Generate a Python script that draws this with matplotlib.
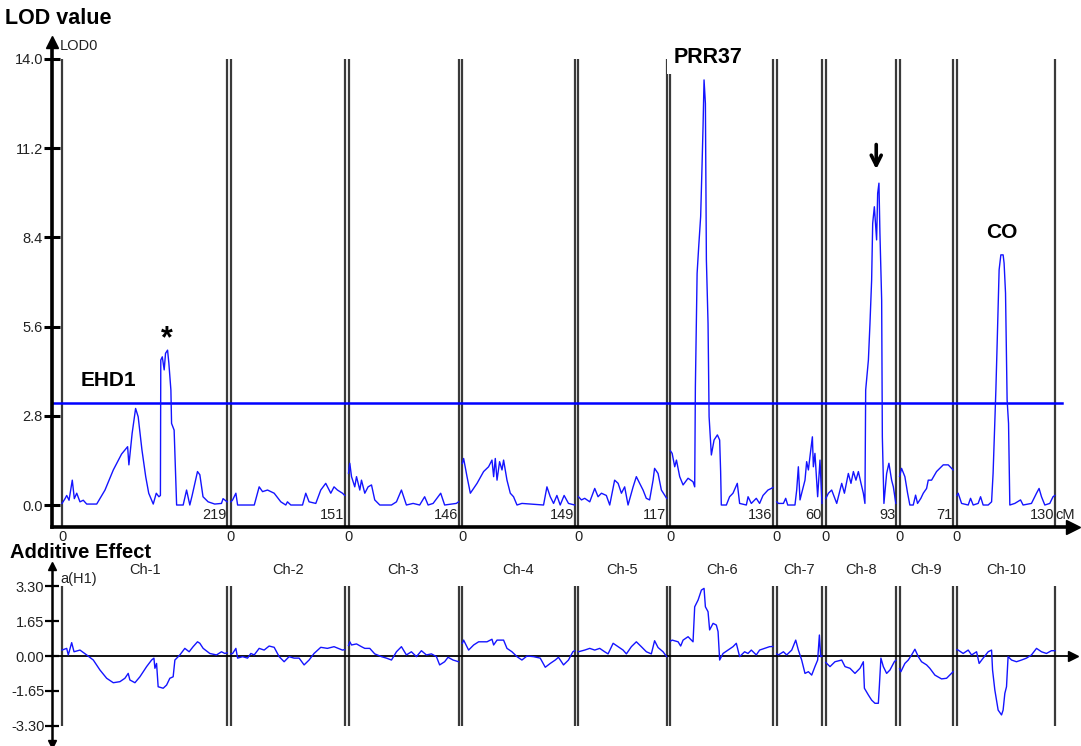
import numpy as np
import matplotlib
matplotlib.use('Agg')
import matplotlib.pyplot as plt

plt.rcParams['font.family'] = ['Liberation Sans', 'DejaVu Sans']

chroms = ['Ch-1', 'Ch-2', 'Ch-3', 'Ch-4', 'Ch-5', 'Ch-6', 'Ch-7', 'Ch-8', 'Ch-9', 'Ch-10']
chrom_len = [219, 151, 146, 149, 117, 136, 60, 93, 71, 130]
gap = 5            # cM between chromosomes on the shared axis
threshold = 3.2    # LOD threshold
lod_ticks = [0.0, 2.8, 5.6, 8.4, 11.2, 14.0]
add_ticks = [3.30, 1.65, 0.00, -1.65, -3.30]

# LOD profiles (position in cM within chromosome, LOD)
lod_cm1 = [0, 4, 6.2, 9.3, 13.6, 16.3, 19.5, 23.8, 28.2, 32.7, 46, 57, 68, 79, 87, 88.7, 93, 97.6, 101, 106,
           111, 115, 121, 125, 128.5, 130.5, 131, 133, 135.5, 137.3, 140, 141.7, 144.4, 145.3, 148.7, 150.6,
           152, 160.7, 165.2, 169.5, 172.6, 179.7, 182.8, 187, 193.8, 202.6, 211.5, 213.6, 219]
lod1 = [0.05, 0.2, 0.3, 0.15, 0.78, 0.2, 0.37, 0.1, 0.15, 0.03, 0.03, 0.47, 1.1, 1.6, 1.83, 1.26, 2.25, 3.03,
        2.77, 1.73, 0.89, 0.37, 0.03, 0.37, 0.26, 0.3, 4.55, 4.65, 4.24, 4.76, 4.86, 4.45, 3.61, 2.56, 2.35,
        0.99, 0.0, 0.0, 0.47, 0.0, 0.3, 1.05, 0.95, 0.26, 0.1, 0.03, 0.05, 0.2, 0.1]
lod_cm2 = [0, 2.3, 6.6, 8.9, 31, 37.5, 42, 48.6, 57.4, 66.2, 72.8, 75, 79.5, 95, 99.3, 103.7, 112.6, 119.2,
           125.8, 132.5, 136.8, 141.3, 148, 151]
lod2 = [0.1, 0.16, 0.37, 0.0, 0.0, 0.57, 0.42, 0.47, 0.37, 0.1, 0.0, 0.1, 0.0, 0.0, 0.37, 0.1, 0.05, 0.47,
        0.68, 0.37, 0.57, 0.47, 0.37, 0.3]
lod_cm3 = [0, 1.7, 4, 8.3, 10.6, 15, 17.2, 21.6, 26, 30.5, 34.8, 41.5, 57, 63.6, 70.2, 76.8, 85.7, 94.4, 101,
           105.6, 112.2, 122.3, 127.5, 143, 146]
lod3 = [1.0, 1.31, 0.89, 0.57, 0.89, 0.47, 0.78, 0.37, 0.57, 0.63, 0.16, 0.0, 0.0, 0.1, 0.47, 0.0, 0.05, 0.0,
        0.26, 0.0, 0.05, 0.37, 0.0, 0.05, 0.1]
lod_cm4 = [0, 1.7, 6.2, 10.6, 19.5, 28.2, 34.8, 39.3, 41.5, 43.7, 46, 49.4, 52.6, 54.7, 59.2, 63.6, 67.9,
           72.5, 79, 107.7, 112.2, 116.6, 121, 125.4, 129.8, 135, 140.8, 149]
lod4 = [1.3, 1.46, 0.89, 0.37, 0.68, 1.05, 1.2, 1.41, 0.89, 1.46, 0.78, 1.36, 1.1, 1.41, 0.78, 0.37, 0.26,
        0.0, 0.05, 0.0, 0.57, 0.26, 0.05, 0.3, 0.0, 0.3, 0.05, 0.0]
lod_cm5 = [0, 4, 8.3, 15, 21.6, 26, 30.5, 37, 41.5, 48, 52.6, 57, 61.3, 65.8, 72.5, 76.8, 81.2, 85.7, 90,
           94.4, 99, 101, 105.6, 110, 117]
lod5 = [0.26, 0.16, 0.21, 0.1, 0.52, 0.26, 0.37, 0.3, 0.0, 0.78, 0.68, 0.37, 0.57, 0.0, 0.57, 0.89, 0.68,
        0.47, 0.21, 0.16, 0.78, 1.15, 0.99, 0.47, 0.21]
lod_cm6 = [0, 2.3, 5.7, 8, 12.3, 16.8, 23.4, 30, 32.2, 33.1, 35.4, 37.5, 40.1, 42, 43.3, 44.6, 46.4, 47.7,
           49.9, 51.3, 54.3, 57.9, 62.3, 65.3, 66.6, 67.5, 74.2, 78.5, 83, 88.7, 91.8, 100.7, 103, 107.3,
           113.9, 118.3, 122.8, 129.4, 133.8, 136]
lod6 = [1.7, 1.62, 1.2, 1.41, 0.89, 0.63, 0.84, 0.73, 0.57, 3.71, 7.27, 8.1, 9.05, 10.7, 11.9, 13.34, 12.6,
        7.7, 5.7, 2.77, 1.57, 2.04, 2.2, 2.04, 1.05, 0.0, 0.0, 0.26, 0.37, 0.68, 0.05, 0.0, 0.26, 0.05,
        0.21, 0.05, 0.3, 0.47, 0.52, 0.55]
lod_cm7 = [0, 2.3, 8.9, 11.9, 14.6, 24.2, 26.5, 28.7, 30.9, 33.1, 37.5, 39.7, 42, 44.1, 47.3, 48.6, 50.7,
           54.3, 57.4, 60]
lod7 = [0.1, 0.05, 0.05, 0.21, 0.0, 0.0, 0.47, 1.2, 0.16, 0.37, 0.78, 1.36, 1.1, 1.52, 2.14, 1.2, 1.62,
        0.26, 1.41, 0.05]
lod_cm8 = [0, 3.6, 7.9, 14.6, 21.2, 24.8, 30, 33.5, 36.7, 40.1, 43.3, 46.8, 49.9, 52, 53, 56.6, 58.7, 60.9,
           62.3, 64.5, 67.5, 68.9, 70.6, 71.9, 74.2, 75.1, 77.2, 80.8, 83.8, 87.4, 89.7, 93]
lod8 = [0.2, 0.37, 0.47, 0.05, 0.68, 0.37, 0.99, 0.68, 1.05, 0.78, 1.05, 0.68, 0.37, 0.05, 3.61, 4.55, 5.7,
        7.06, 8.84, 9.36, 8.32, 9.78, 10.1, 8.53, 6.43, 2.14, 0.05, 0.99, 1.31, 0.78, 0.57, 0.05]
lod_cm9 = [0, 2.6, 7, 10.6, 13.6, 18.1, 21.2, 23.8, 28.2, 31.4, 35.8, 38, 42.4, 49, 57.9, 64.5, 71]
lod9 = [0.9, 1.15, 0.89, 0.37, 0.0, 0.0, 0.31, 0.05, 0.21, 0.37, 0.52, 0.78, 0.78, 1.05, 1.26, 1.26, 1.1]
lod_cm10 = [0, 1.7, 6.2, 15, 18.1, 21.6, 28.2, 31.4, 34.8, 41.5, 46, 48, 50.3, 51.7, 53.4, 56, 58.3, 61.3,
            62.6, 64.5, 66.6, 68.5, 70.2, 76.8, 84.4, 87.8, 98.9, 105.6, 109, 112.2, 116.6, 123.2, 127.5, 130]
lod10 = [0.3, 0.37, 0.05, 0.0, 0.21, 0.0, 0.05, 0.26, 0.0, 0.0, 0.1, 0.99, 2.61, 3.61, 5.07, 7.38, 7.85,
         7.85, 7.59, 6.65, 3.3, 2.56, 0.0, 0.05, 0.16, 0.0, 0.05, 0.37, 0.52, 0.26, 0.0, 0.05, 0.26, 0.3]

# additive effect a(H1)
add_cm1 = [0, 6.2, 8.3, 12.8, 15.9, 23.8, 32.7, 41.5, 50.3, 59.2, 68, 76.8, 83.4, 87.8, 90, 96.7, 103.3,
           112.2, 118.8, 121.9, 123.2, 125.4, 127.5, 134.2, 138.7, 143, 147.4, 149.7, 156.3, 162.9, 168.6,
           173.9, 179.7, 182.8, 187.2, 196, 204.9, 211.5, 215.9, 219]
add1 = [0.28, 0.36, 0.05, 0.63, 0.2, 0.28, 0.05, -0.19, -0.66, -1.05, -1.26, -1.21, -1.05, -0.82, -1.13,
        -1.26, -0.98, -0.5, -0.19, -0.1, -0.58, -0.35, -1.45, -1.52, -1.37, -1.05, -0.98, -0.19, 0.05, 0.36,
        0.2, 0.44, 0.67, 0.6, 0.36, 0.12, 0.05, 0.2, 0.12, 0.15]
add_cm2 = [0, 2.3, 6.6, 8.9, 15.5, 22.1, 26.5, 30.9, 37.5, 44.1, 50.7, 57.4, 64, 70.6, 77.2, 83.8, 90.5,
           97.1, 103.7, 110.3, 119.2, 128, 136.8, 147.9, 151]
add2 = [0.1, 0.12, 0.36, -0.1, -0.03, -0.1, 0.12, 0.05, 0.36, 0.28, 0.47, 0.41, -0.03, -0.27, -0.03, -0.1,
        -0.1, -0.42, -0.19, 0.12, 0.41, 0.36, 0.44, 0.28, 0.3]
add_cm3 = [0, 1.7, 4, 10.6, 17.2, 21.6, 28.2, 34.8, 43.7, 50.3, 57, 63.6, 70.2, 76.8, 83.4, 90.1, 96.7,
           103.3, 110, 116.6, 120.9, 127.5, 132, 138.7, 146]
add3 = [0.5, 0.67, 0.52, 0.57, 0.44, 0.36, 0.36, 0.1, -0.03, -0.1, -0.19, 0.2, 0.44, 0.05, 0.2, -0.03, 0.25,
        0.05, 0.1, -0.03, -0.42, -0.27, -0.06, -0.19, -0.27]
add_cm4 = [0, 1.7, 8.3, 15, 21.6, 32.7, 39.3, 41.5, 46, 54.7, 59.2, 65.8, 72.5, 79, 85.7, 94.4, 103.3, 110,
           116.6, 123.2, 127.5, 134.2, 140.8, 146.6, 149]
add4 = [0.6, 0.75, 0.28, 0.52, 0.67, 0.67, 0.79, 0.52, 0.75, 0.75, 0.36, 0.2, -0.03, -0.19, 0.0, -0.03,
        -0.1, -0.53, -0.35, -0.19, -0.06, -0.42, -0.19, 0.2, 0.25]
add_cm5 = [0, 8.3, 15, 21.6, 28.2, 34.8, 39.3, 46, 52.6, 59.2, 63.6, 70.2, 76.8, 83.4, 90.1, 96.7, 101,
           105.6, 112.2, 117]
add5 = [0.2, 0.28, 0.36, 0.28, 0.36, 0.2, 0.1, 0.6, 0.44, 0.28, 0.1, 0.44, 0.67, 0.44, 0.2, 0.1, 0.72, 0.4,
        0.2, -0.03]
add_cm6 = [0, 2.3, 10.2, 13.6, 16.8, 23.4, 30, 32.2, 36.7, 41.1, 44.6, 46.4, 49.9, 52, 56.6, 60.9, 63.2,
           65.3, 69.8, 76.4, 83, 87.4, 91.8, 98.4, 102.9, 107.3, 113.9, 118.3, 124.9, 131.5, 136]
add6 = [0.7, 0.75, 0.67, 0.47, 0.75, 0.91, 0.67, 2.32, 2.64, 3.11, 3.19, 2.32, 2.09, 1.23, 1.54, 1.46, 1.15,
        -0.19, 0.12, 0.28, 0.44, 0.6, -0.03, 0.2, 0.12, 0.28, 0.05, 0.28, 0.36, 0.44, 0.45]
add_cm7 = [0, 2.3, 8.9, 13.2, 19.9, 25.2, 28.7, 33.1, 37.5, 42, 46.4, 50.7, 54.3, 56.6, 58.3, 60]
add7 = [0.1, 0.05, 0.2, 0.05, 0.28, 0.75, 0.28, -0.19, -0.82, -0.74, -0.9, -0.5, -0.19, 0.99, -0.03, 0.0]
add_cm8 = [0, 1.3, 5.7, 12.3, 21.2, 25.6, 32.2, 38.8, 45.4, 49.9, 51.3, 56.6, 60.9, 65.3, 69.8, 71.1, 73.2,
           76.4, 80.8, 85.2, 91, 93]
add8 = [-0.3, -0.35, -0.5, -0.27, -0.19, -0.5, -0.58, -0.82, -0.58, -0.27, -1.52, -1.84, -2.08, -2.23, -2.23,
        -1.45, -0.1, -0.5, -0.82, -0.66, -0.27, -0.2]
add_cm9 = [0, 1.7, 7, 11.5, 15.9, 20.3, 24.8, 29.1, 35.8, 40.1, 46.8, 55.6, 62.3, 71]
add9 = [-0.6, -0.74, -0.35, -0.19, 0.05, 0.32, -0.03, -0.27, -0.42, -0.58, -0.9, -1.08, -1.05, -0.74]
add_cm10 = [0, 1.7, 8.3, 15, 19.5, 26.1, 29.5, 34.8, 41.5, 46, 47.3, 50.3, 54.7, 59.2, 61.3, 63.6, 65.8,
            67.9, 72.5, 79, 85.7, 92.3, 98.9, 105.6, 112.2, 118.8, 125.4, 130]
add10 = [0.3, 0.28, 0.12, 0.28, 0.05, 0.2, -0.35, -0.1, 0.2, 0.28, -0.66, -1.6, -2.55, -2.78, -2.55, -1.76,
         -1.45, -0.03, -0.19, -0.27, -0.19, -0.1, 0.05, 0.36, 0.2, 0.12, 0.25, 0.25]

lod_cm = [lod_cm1, lod_cm2, lod_cm3, lod_cm4, lod_cm5, lod_cm6, lod_cm7, lod_cm8, lod_cm9, lod_cm10]
lods = [lod1, lod2, lod3, lod4, lod5, lod6, lod7, lod8, lod9, lod10]
add_cm = [add_cm1, add_cm2, add_cm3, add_cm4, add_cm5, add_cm6, add_cm7, add_cm8, add_cm9, add_cm10]
adds = [add1, add2, add3, add4, add5, add6, add7, add8, add9, add10]

offsets = [sum(chrom_len[:i]) + gap * i for i in range(len(chrom_len))]

BLUE = '#1414ff'
LINE = '#3a3a3a'
TXT = '#222222'

W, H = 1081, 746
fig = plt.figure(figsize=(W / 100, H / 100), dpi=100)


def px_box(x0, y0, x1, y1):
    return [x0 / W, 1 - y1 / H, (x1 - x0) / W, (y1 - y0) / H]


ax = fig.add_axes(px_box(52, 42, 1073, 527))
ax2 = fig.add_axes(px_box(52, 566, 1073, 744))
xmin, xmax = -13.3, 1341
for a in (ax, ax2):
    a.set_xlim(xmin, xmax)
    a.set_xticks([])
    a.spines['top'].set_visible(False)
    a.spines['right'].set_visible(False)
    a.patch.set_alpha(0)

ax.set_ylim(-0.69, 14.53)
ax2.set_ylim(-4.15, 4.245)

# ---- LOD panel ----
for off, L, cm, y in zip(offsets, chrom_len, lod_cm, lods):
    ax.vlines([off, off + L], -0.69, 14.0, color=LINE, lw=1.6, zorder=1)
    ax.plot(off + np.array(cm), y, color=BLUE, lw=1.0, zorder=3)
ax.plot([xmin, offsets[-1] + chrom_len[-1] + 9], [threshold, threshold], color='#0000ff', lw=1.8, zorder=2)

ax.spines['left'].set_linewidth(2.6)
ax.spines['bottom'].set_linewidth(2.6)
ax.set_yticks(lod_ticks)
ax.set_yticklabels(['%.1f' % t for t in lod_ticks])
ax.tick_params(axis='y', direction='inout', length=12, width=2.2, labelsize=10.5, pad=0.5, labelcolor=TXT)
ax.plot(0, 1, '^k', ms=8, transform=ax.transAxes, clip_on=False)
ax.plot(1, 0, '>k', ms=10, transform=ax.transAxes, clip_on=False)

for off, L, name in zip(offsets, chrom_len, chroms):
    ax.text(off + L - 0.5, -0.31, str(L), ha='right', va='center', fontsize=10.5, color=TXT)
    ax.text(off, -1.0, '0', ha='center', va='center', fontsize=10.5, color=TXT)
    ax.text(off + L / 2, -2.04, name, ha='center', va='center', fontsize=10.5, color=TXT)
ax.text(offsets[-1] + chrom_len[-1] + 1, -0.31, 'cM', ha='left', va='center', fontsize=10.5, color=TXT)

# peak labels
ax.text(offsets[0] + 61, 3.92, 'EHD1', ha='center', va='center', fontsize=15, fontweight='bold')
ax.text(offsets[0] + 139, 5.2, '*', ha='center', va='center', fontsize=22, fontweight='bold')
ax.text(offsets[5] + 50, 14.05, 'PRR37', ha='center', va='center', fontsize=15.5, fontweight='bold', zorder=5,
        bbox=dict(boxstyle='square,pad=0.3', facecolor='white', edgecolor='none'))
ax.annotate('', xy=(offsets[7] + 67, 10.45), xytext=(offsets[7] + 67, 11.4),
            arrowprops=dict(arrowstyle='->', lw=2.6, color='k', mutation_scale=18))
ax.text(offsets[9] + 59.5, 8.55, 'CO', ha='center', va='center', fontsize=15, fontweight='bold')

# ---- additive panel ----
for off, L, cm, y in zip(offsets, chrom_len, add_cm, adds):
    ax2.vlines([off, off + L], -3.3, 3.3, color=LINE, lw=1.6, zorder=1)
    ax2.plot(off + np.array(cm), y, color=BLUE, lw=1.0, zorder=3)
ax2.axhline(0, color='k', lw=1.3, zorder=2)
ax2.spines['bottom'].set_visible(False)
ax2.spines['left'].set_linewidth(1.8)
ax2.set_yticks(add_ticks)
ax2.set_yticklabels(['%.2f' % t for t in add_ticks])
ax2.tick_params(axis='y', direction='inout', length=10, width=1.6, labelsize=10.5, pad=0.5, labelcolor=TXT)
ax2.plot(0, 1, '^k', ms=6, transform=ax2.transAxes, clip_on=False)
ax2.plot(0, 0, 'vk', ms=6, transform=ax2.transAxes, clip_on=False)
ax2.plot(1, 0, '>k', ms=7, transform=ax2.get_yaxis_transform(), clip_on=False)

# titles / axis names
fig.text(5 / W, 1 - 18 / H, 'LOD value', fontsize=15.5, fontweight='bold', va='center')
fig.text(10 / W, 1 - 552 / H, 'Additive Effect', fontsize=14.5, fontweight='bold', va='center')
fig.text(60 / W, 1 - 46 / H, 'LOD0', fontsize=10.5, color=TXT, va='center')
fig.text(60 / W, 1 - 579 / H, 'a(H1)', fontsize=10.5, color=TXT, va='center')

fig.savefig('out.png', dpi=100)
